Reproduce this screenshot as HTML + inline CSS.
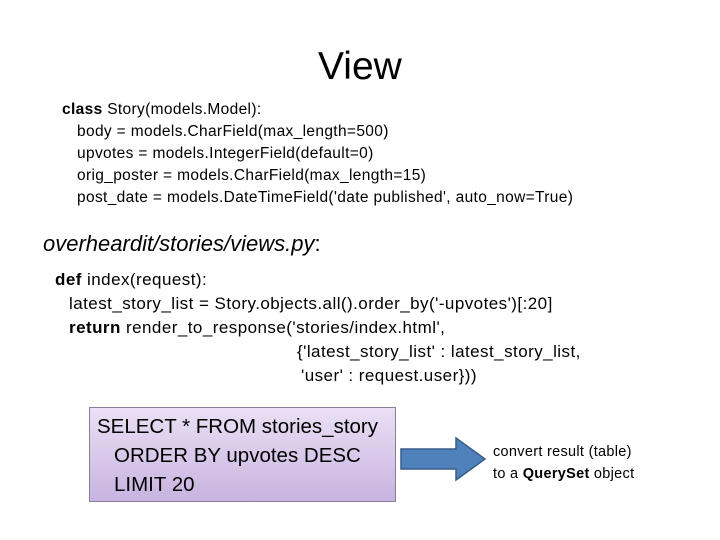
<!DOCTYPE html>
<html><head><style>
body{margin:0;width:720px;height:540px;background:#fff;position:relative;font-family:"Liberation Sans",sans-serif;color:#000;overflow:hidden}
.t{position:absolute;white-space:pre;line-height:1}
.c{font-size:15.5px;letter-spacing:0.35px}
.d{font-size:17px;letter-spacing:0.45px}
.s{font-size:20.5px}
.r{font-size:14.5px;letter-spacing:0.3px}
</style></head><body>
<div class="t" style="left:318px;top:47px;font-size:39px">View</div>
<div class="t c" style="left:62px;top:102px"><b>class</b> Story(models.Model):</div>
<div class="t c" style="left:77px;top:124px">body = models.CharField(max_length=500)</div>
<div class="t c" style="left:77px;top:146px">upvotes = models.IntegerField(default=0)</div>
<div class="t c" style="left:77px;top:168px">orig_poster = models.CharField(max_length=15)</div>
<div class="t c" style="left:77px;top:190px">post_date = models.DateTimeField('date published', auto_now=True)</div>
<div class="t" style="left:43px;top:233px;font-size:22px;font-style:italic">overheardit/stories/views.py<span style="font-style:normal">:</span></div>
<div class="t d" style="left:55px;top:271px"><b>def</b> index(request):</div>
<div class="t d" style="left:69px;top:295px">latest_story_list = Story.objects.all().order_by('-upvotes')[:20]</div>
<div class="t d" style="left:69px;top:319px"><b>return</b> render_to_response('stories/index.html',</div>
<div class="t d" style="left:297px;top:343px">{'latest_story_list' : latest_story_list,</div>
<div class="t d" style="left:301px;top:367px">'user' : request.user}))</div>
<div style="position:absolute;left:89px;top:407px;width:305px;height:93px;border:1px solid #8a7d9c;background:linear-gradient(#ebe0f5,#c7b3e0)"></div>
<div class="t s" style="left:97px;top:417px">SELECT * FROM stories_story</div>
<div class="t s" style="left:114px;top:446px">ORDER BY upvotes DESC</div>
<div class="t s" style="left:114px;top:475px">LIMIT 20</div>
<svg style="position:absolute;left:0;top:0" width="720" height="540">
<polygon points="401,449 456,449 456,438 485,459 456,480 456,469 401,469" fill="#4f81bd" stroke="#385d8a" stroke-width="1.5"/>
</svg>
<div class="t r" style="left:493px;top:445px">convert result (table)</div>
<div class="t r" style="left:493px;top:467px">to a <b>QuerySet</b> object</div>
</body></html>
